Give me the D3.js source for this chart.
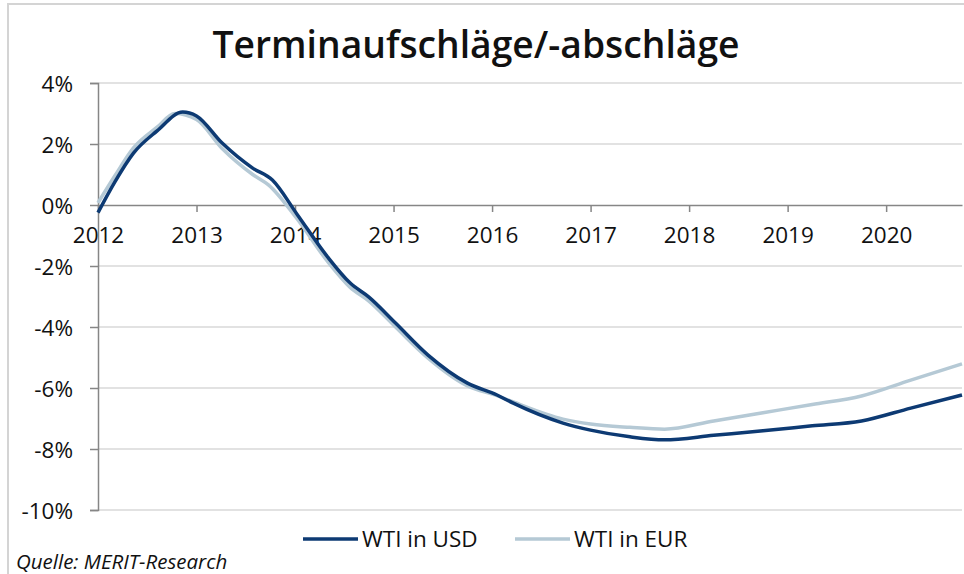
<!DOCTYPE html>
<html><head><meta charset="utf-8">
<script src="https://cdn.jsdelivr.net/npm/d3@7"></script>
<style>body{margin:0;background:#fff}svg{display:block}text{font-family:"Open Sans","Noto Sans",sans-serif;fill:#111}</style>
</head><body><svg id="c" width="964" height="574"></svg>
<script>
const title = "Terminaufschläge/-abschläge";
const source = "Quelle: MERIT-Research";
const yearTicks = [2012,2013,2014,2015,2016,2017,2018,2019,2020];
const yTicks = [4,2,0,-2,-4,-6,-8,-10];
const seriesNames = ["WTI in USD","WTI in EUR"];
const usdX = [2012.00,2012.17,2012.36,2012.60,2012.86,2013.00,2013.26,2013.57,2013.77,2014.02,2014.33,2014.56,2014.75,2015.02,2015.35,2015.75,2016.05,2016.21,2016.72,2017.00,2017.40,2017.75,2018.25,2018.75,2019.25,2019.75,2020.25,2020.77];
const usdY = [-0.25,0.75,1.70,2.43,3.05,2.92,2.03,1.21,0.82,-0.30,-1.70,-2.56,-3.02,-3.87,-4.92,-5.84,-6.23,-6.49,-7.15,-7.38,-7.60,-7.70,-7.55,-7.40,-7.24,-7.08,-6.66,-6.23];
const eurX = [2012.00,2012.17,2012.36,2012.60,2012.78,2013.00,2013.26,2013.57,2013.73,2014.02,2014.33,2014.56,2014.75,2015.02,2015.35,2015.75,2016.05,2016.21,2016.72,2017.00,2017.40,2017.75,2018.25,2018.75,2019.25,2019.75,2020.25,2020.77];
const eurY = [0.07,0.95,1.87,2.55,3.00,2.80,1.85,1.00,0.66,-0.45,-1.85,-2.70,-3.15,-4.00,-5.02,-5.93,-6.25,-6.45,-7.02,-7.18,-7.29,-7.35,-7.08,-6.81,-6.54,-6.26,-5.74,-5.21];

(function(){
const svg = d3.select("#c");
const colors = ["#0d3a73","#b5c9d5"];
const pl = 98, pr = 962, pt = 83, pb = 510;
const x = d3.scaleLinear().domain([2012, 2020.77]).range([pl, pr]);
const y = d3.scaleLinear().domain([4, -10]).range([pt, pb]);

// frame
svg.append("path").attr("d","M8,574 V4 H964").attr("fill","none").attr("stroke","#d4d4d4").attr("stroke-width",2);

// title
const t = svg.append("text").attr("x",476).attr("y",58).attr("text-anchor","middle")
  .style("font-size","36px").style("font-weight","600").style("font-family","'Open Sans'").text(title);
const tw = t.node().getComputedTextLength();
t.style("font-size", (36*527/tw).toFixed(2)+"px");

// gridlines
svg.append("g").selectAll("line").data(yTicks.filter(d=>d!==0)).join("line")
  .attr("x1",pl).attr("x2",pr).attr("y1",d=>y(d)).attr("y2",d=>y(d))
  .attr("stroke","#d9d9d9").attr("stroke-width",1.5);

// y axis
const yAxis = svg.append("g").attr("transform",`translate(${pl},0)`)
  .call(d3.axisLeft(y).tickValues(yTicks).tickFormat(d=>d+"%").tickSize(8).tickPadding(17));
yAxis.select(".domain").attr("stroke","#868686").attr("stroke-width",1.5);
yAxis.selectAll(".tick line").attr("stroke","#868686").attr("stroke-width",1.5);
yAxis.selectAll("text").style("font-size","22.5px").style("font-family","'Open Sans'").attr("fill","#111").attr("dy","0.36em");

// x axis at 0
const xAxis = svg.append("g").attr("transform",`translate(0,${y(0)})`)
  .call(d3.axisBottom(x).tickValues(yearTicks).tickFormat(d3.format("d")).tickSize(7).tickPadding(15).tickSizeOuter(0));
xAxis.select(".domain").attr("stroke","#868686").attr("stroke-width",1.5);
xAxis.selectAll(".tick line").attr("stroke","#868686").attr("stroke-width",1.5);
xAxis.selectAll("text").style("font-size","22.5px").style("font-family","'Open Sans'").attr("fill","#111");

// lines
const line = d3.line().x(d=>x(d[0])).y(d=>y(d[1])).curve(d3.curveMonotoneX);
const data = [d3.zip(usdX,usdY), d3.zip(eurX,eurY)];
[1,0].forEach(i=>{
  svg.append("path").datum(data[i]).attr("d",line).attr("fill","none")
    .attr("stroke",colors[i]).attr("stroke-width",3.5).attr("stroke-linejoin","round");
});

// legend
const lg = [{x:303},{x:515}];
lg.forEach((l,i)=>{
  svg.append("line").attr("x1",l.x).attr("x2",l.x+55).attr("y1",539).attr("y2",539)
    .attr("stroke",colors[i]).attr("stroke-width",3.5);
  svg.append("text").attr("x",l.x+59).attr("y",547).style("font-size","22.5px").text(seriesNames[i]);
});

// source
svg.append("text").attr("x",16).attr("y",569).style("font-size","20.5px").style("font-style","italic").text(source);
})();
</script></body></html>
